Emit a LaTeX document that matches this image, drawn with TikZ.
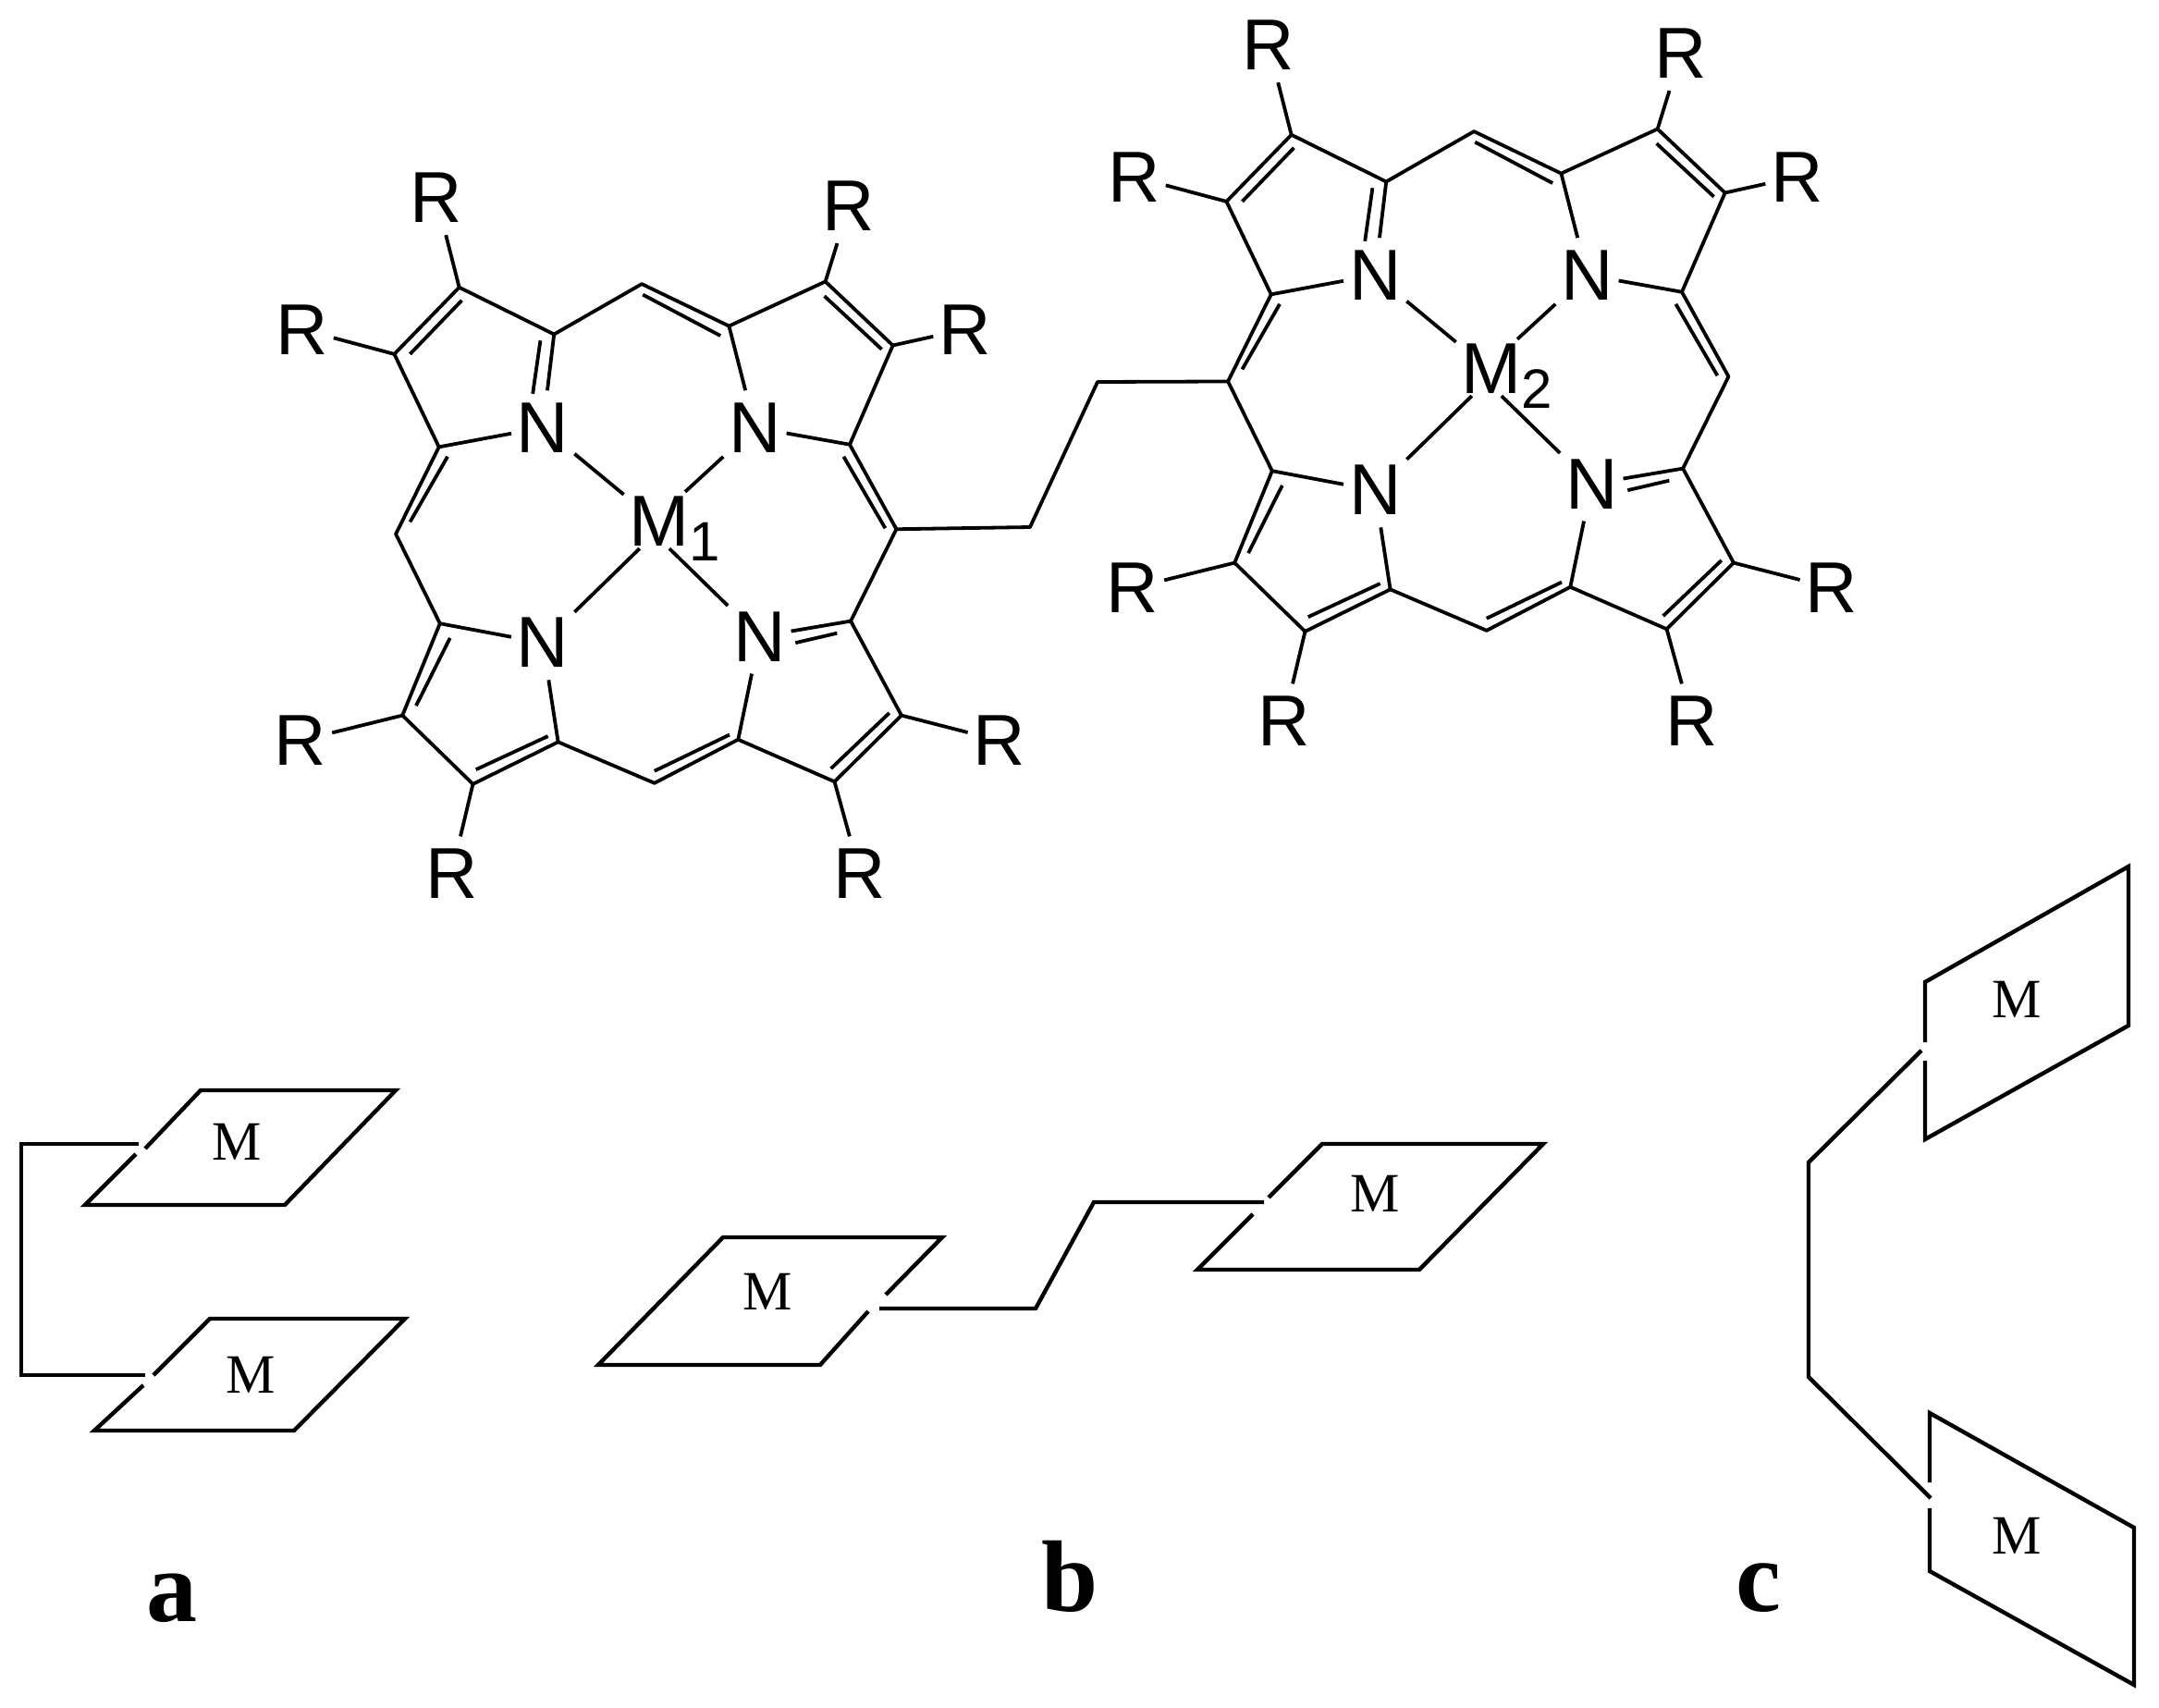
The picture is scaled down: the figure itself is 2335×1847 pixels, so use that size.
\documentclass[tikz,border=0pt]{standalone}
\usepackage{fontspec}
\setmainfont{Liberation Sans}
\newfontfamily\serifM{Liberation Serif}
\tikzset{
  bond/.style={line width=3.8pt,line join=round,line cap=butt},
  sheet/.style={line width=4.4pt,line join=miter,line cap=butt},
  atomN/.style={inner sep=0pt,minimum width=68pt,minimum height=80pt,font=\fontsize{78}{78}\selectfont},
  metalbox/.style={inner sep=0pt,minimum width=66pt},
  sublabel/.style={inner sep=0pt,anchor=base west,font=\fontsize{78}{78}\selectfont},
  sheetM/.style={inner sep=0pt,font=\serifM\fontsize{60}{60}\selectfont},
  paneltag/.style={inner sep=0pt,anchor=base,font=\serifM\bfseries\fontsize{110}{110}\selectfont},
  pics/porphyrin/.style={code={
    \begin{scope}[x=0.5485pt,y=-0.523pt]
    \foreach \n/\px/\py in {
      a1/582/347,b1/395/250,b2/267/388,a2/355/580,
      mt/755/243,
      a3/927/330,b3/1117/238,b4/1250/370,a4/1165/575,
      mr/1257/750,
      a5/1167/940,b5/1267/1135,b6/1135/1272,a6/945/1185,
      mb/780/1275,
      a7/590/1190,b7/422/1277,b8/283/1135,a8/357/945,
      ml/270/760,
      i1s/400/277,i1e/298/388,
      i2s/757/265,i2e/910/350,
      i3s/1115/268,i3e/1228/378,
      i4s/1153/600,i4e/1235/748,
      i5s/372/600,i5e/298/735,
      i6s/377/975,i6e/310/1115,
      i7s/570/1178,i7e/428/1247,
      i8s/928/1175,i8e/780/1250,
      i9s/1243/1130,i9e/1128/1245,
      i10s/555/360,i10e/540/470,
      i11s/1140/965,i11e/1058/985}
      \coordinate (\n) at (\px,\py);
    \node[atomN] (n1) at (560,540) {N};
    \node[atomN] (n2) at (978,540) {N};
    \node[atomN] (n3) at (987,972) {N};
    \node[atomN] (n4) at (560,985) {N};
    \node[atomN] (r1) at (350,65) {R};
    \node[atomN] (r2) at (85,337) {R};
    \node[atomN] (r3) at (1163,82) {R};
    \node[atomN] (r4) at (1392,337) {R};
    \node[atomN] (r5) at (1460,1187) {R};
    \node[atomN] (r6) at (1185,1462) {R};
    \node[atomN] (r7) at (380,1462) {R};
    \node[atomN] (r8) at (82,1187) {R};
    \node[metalbox,minimum height=64pt] (mT) at (780,731) {};
    \node[metalbox,minimum height=31pt] (mB) at (780,760) {};
    \node[sublabel] (mlabel) at (730,785) {M\raisebox{-15.7pt}{\fontsize{60}{60}\selectfont #1}};
    \draw[bond] (a1)--(b1)--(b2)--(a2)--(ml)--(a8)--(b8)--(b7)--(a7)--(mb)--(a6)--(b6)--(b5)--(a5)--(mr)--(a4)--(b4)--(b3)--(a3)--(mt)--cycle;
    \foreach \k in {1,...,11} \draw[bond] (i\k s)--(i\k e);
    \draw[bond] (a1)--(n1);
    \draw[bond] (a2)--(n1);
    \draw[bond] (a3)--(n2);
    \draw[bond] (a4)--(n2);
    \draw[bond] (a5)--(n3);
    \draw[bond] (a6)--(n3);
    \draw[bond] (a7)--(n4);
    \draw[bond] (a8)--(n4);
    \draw[bond] (n1)--(mT);
    \draw[bond] (n2)--(mT);
    \draw[bond] (n3)--(mB);
    \draw[bond] (n4)--(mB);
    \draw[bond] (b1)--(r1);
    \draw[bond] (b2)--(r2);
    \draw[bond] (b3)--(r3);
    \draw[bond] (b4)--(r4);
    \draw[bond] (b5)--(r5);
    \draw[bond] (b6)--(r6);
    \draw[bond] (b7)--(r7);
    \draw[bond] (b8)--(r8);
    \end{scope}
  }}
}
\begin{document}
\begin{tikzpicture}[x=1pt,y=-1pt]
\useasboundingbox (0,0) rectangle (2335,1847);
\fill[white] (0,0) rectangle (2335,1847);
% molecule
\pic (P) at (280,180) {porphyrin={1}};
\pic (Q) at (1180,15) {porphyrin={2}};
\coordinate (k1) at (1114,570);
\coordinate (k2) at (1187,413);
\draw[bond] (Pmr)--(k1)--(k2)--(Qml);
% panel a
\coordinate (a1s) at (157,1242);
\coordinate (a1A) at (217,1179);
\coordinate (a1B) at (428,1179);
\coordinate (a1C) at (308,1303);
\coordinate (a1D) at (92,1303);
\coordinate (a1e) at (147,1248);
\draw[sheet] (a1s)--(a1A)--(a1B)--(a1C)--(a1D)--(a1e);
\node[sheetM] (Ma1) at (256,1235) {M};
\coordinate (a2s) at (166,1487);
\coordinate (a2A) at (227,1426);
\coordinate (a2B) at (438,1426);
\coordinate (a2C) at (318,1547);
\coordinate (a2D) at (102,1547);
\coordinate (a2e) at (155,1498);
\draw[sheet] (a2s)--(a2A)--(a2B)--(a2C)--(a2D)--(a2e);
\node[sheetM] (Ma2) at (271,1487) {M};
\coordinate (ac1) at (150,1237);
\coordinate (ac2) at (23,1237);
\coordinate (ac3) at (23,1487);
\coordinate (ac4) at (157,1487);
\draw[sheet] (ac1)--(ac2)--(ac3)--(ac4);
% panel b
\coordinate (b1s) at (958,1400);
\coordinate (b1A) at (1019,1338);
\coordinate (b1B) at (782,1338);
\coordinate (b1C) at (647,1476);
\coordinate (b1D) at (887,1476);
\coordinate (b1e) at (939,1418);
\draw[sheet] (b1s)--(b1A)--(b1B)--(b1C)--(b1D)--(b1e);
\node[sheetM] (Mb1) at (830,1397) {M};
\coordinate (b2s) at (1372,1295);
\coordinate (b2A) at (1430,1237);
\coordinate (b2B) at (1669,1237);
\coordinate (b2C) at (1535,1373);
\coordinate (b2D) at (1295,1373);
\coordinate (b2e) at (1355,1313);
\draw[sheet] (b2s)--(b2A)--(b2B)--(b2C)--(b2D)--(b2e);
\node[sheetM] (Mb2) at (1487,1291) {M};
\coordinate (bc1) at (951,1415);
\coordinate (bc2) at (1120,1415);
\coordinate (bc3) at (1183,1300);
\coordinate (bc4) at (1367,1300);
\draw[sheet] (bc1)--(bc2)--(bc3)--(bc4);
% panel c
\coordinate (c1s) at (2082,1127);
\coordinate (c1A) at (2082,1062);
\coordinate (c1B) at (2302,937);
\coordinate (c1C) at (2302,1109);
\coordinate (c1D) at (2082,1232);
\coordinate (c1e) at (2082,1147);
\draw[sheet] (c1s)--(c1A)--(c1B)--(c1C)--(c1D)--(c1e);
\node[sheetM] (Mc1) at (2181,1081) {M};
\coordinate (c2s) at (2087,1603);
\coordinate (c2A) at (2087,1528);
\coordinate (c2B) at (2308,1652);
\coordinate (c2C) at (2308,1822);
\coordinate (c2D) at (2087,1699);
\coordinate (c2e) at (2087,1631);
\draw[sheet] (c2s)--(c2A)--(c2B)--(c2C)--(c2D)--(c2e);
\node[sheetM] (Mc2) at (2181,1661) {M};
\coordinate (cc1) at (2078,1136);
\coordinate (cc2) at (1956,1257);
\coordinate (cc3) at (1956,1489);
\coordinate (cc4) at (2088,1620);
\draw[sheet] (cc1)--(cc2)--(cc3)--(cc4);
% tags
\node[paneltag] (ta) at (186,1753) {a};
\node[paneltag] (tb) at (1157,1742) {b};
\node[paneltag] (tc) at (1902,1742) {c};
\end{tikzpicture}
\end{document}
